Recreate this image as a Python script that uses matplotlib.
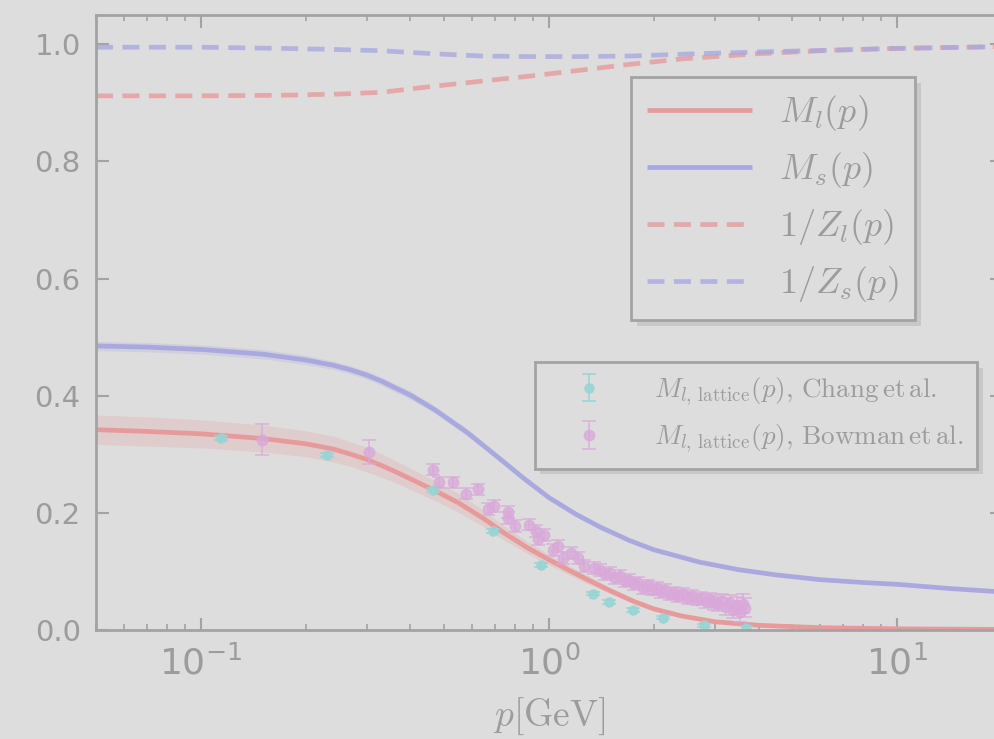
import matplotlib
matplotlib.use('Agg')
import matplotlib.pyplot as plt
import matplotlib.patheffects as pe
import numpy as np

plt.rcParams['mathtext.fontset'] = 'cm'

# colours (the whole figure looks washed out)
bg = '#dddddd'
fg = '#9c9c9c'
spine_col = '#a3a3a3'
red = '#e89a9a'
blue = '#a9a9e0'
teal = '#97d5d5'
pink = '#d9a9d9'

# running masses M_l(p), M_s(p)
p_ml = [0.05, 0.07, 0.1, 0.15, 0.2, 0.24, 0.27, 0.3, 0.33, 0.36, 0.4, 0.47, 0.55, 0.65,
        0.75, 0.87, 1.0, 1.15, 1.3, 1.5, 1.75, 2.0, 2.4, 3.0, 4.0, 6.0, 10.0, 20.0]
m_l = [0.342, 0.339, 0.335, 0.327, 0.318, 0.309, 0.300, 0.291, 0.281, 0.271, 0.258,
       0.238, 0.217, 0.190, 0.164, 0.140, 0.120, 0.101, 0.085, 0.067, 0.049, 0.036,
       0.024, 0.014, 0.008, 0.004, 0.002, 0.001]
m_l_err = [0.025, 0.025, 0.024, 0.023, 0.022, 0.022, 0.021, 0.021, 0.020, 0.019, 0.018,
           0.017, 0.016, 0.014, 0.012, 0.010, 0.009, 0.008, 0.007, 0.005, 0.004, 0.003,
           0.002, 0.001, 0.001, 0.0005, 0.0003, 0.0002]

p_ms = [0.05, 0.07, 0.1, 0.15, 0.2, 0.24, 0.27, 0.3, 0.33, 0.36, 0.4, 0.47, 0.58, 0.7,
        0.85, 1.0, 1.2, 1.4, 1.7, 2.0, 2.7, 3.5, 4.5, 6.0, 8.0, 10.0, 14.0, 20.0]
m_s = [0.485, 0.483, 0.479, 0.471, 0.461, 0.452, 0.444, 0.435, 0.425, 0.414, 0.401,
       0.376, 0.338, 0.299, 0.258, 0.226, 0.197, 0.176, 0.153, 0.137, 0.116, 0.103,
       0.094, 0.086, 0.081, 0.078, 0.071, 0.065]
m_s_err = [0.008, 0.008, 0.008, 0.008, 0.008, 0.007, 0.007, 0.007, 0.007, 0.007, 0.007,
           0.006, 0.006, 0.005, 0.005, 0.004, 0.004, 0.003, 0.003, 0.003, 0.002, 0.002,
           0.002, 0.002, 0.002, 0.002, 0.002, 0.002]

# wave function renormalisations 1/Z_l(p), 1/Z_s(p)
p_z = [0.05, 0.1, 0.17, 0.25, 0.33, 0.46, 0.64, 0.89, 1.24, 1.72, 2.4, 4.0, 6.6, 10.0, 20.0]
inv_zl = [0.912, 0.912, 0.913, 0.915, 0.918, 0.928, 0.937, 0.946, 0.956, 0.966, 0.975,
          0.984, 0.990, 0.993, 0.996]
inv_zs = [0.995, 0.995, 0.993, 0.991, 0.989, 0.984, 0.980, 0.979, 0.979, 0.980, 0.983,
          0.987, 0.990, 0.993, 0.996]

# lattice data, Chang et al.
p_chang = [0.114, 0.231, 0.464, 0.69, 0.95, 1.34, 1.49, 1.74, 2.13, 2.79, 3.69]
m_chang = [0.328, 0.299, 0.239, 0.169, 0.111, 0.062, 0.048, 0.034, 0.021, 0.008, 0.003]
e_chang = [0.003, 0.003, 0.003, 0.003, 0.003, 0.003, 0.003, 0.003, 0.003, 0.003, 0.003]

# lattice data, Bowman et al.
p_bow = [0.150, 0.305, 0.464, 0.482, 0.53, 0.577, 0.624, 0.667, 0.695, 0.762, 0.762,
         0.80, 0.876, 0.918, 0.93, 0.97, 1.03, 1.06, 1.10, 1.16, 1.21, 1.26, 1.35,
         1.40, 1.45, 1.50, 1.55, 1.60, 1.65, 1.70, 1.75, 1.80, 1.86, 1.92, 1.98, 2.04,
         2.10, 2.16, 2.22, 2.28, 2.35, 2.42, 2.50, 2.58, 2.66, 2.74, 2.82, 2.90, 2.98,
         3.06, 3.14, 3.22, 3.30, 3.38, 3.46, 3.54, 3.60, 3.65]
m_bow = [0.325, 0.304, 0.274, 0.252, 0.252, 0.233, 0.240, 0.207, 0.212, 0.202, 0.191,
         0.178, 0.180, 0.169, 0.155, 0.162, 0.137, 0.144, 0.123, 0.132, 0.123, 0.109,
         0.106, 0.103, 0.095, 0.098, 0.088, 0.092, 0.083, 0.086, 0.078, 0.081, 0.072,
         0.076, 0.069, 0.072, 0.065, 0.068, 0.062, 0.064, 0.058, 0.061, 0.055, 0.058,
         0.052, 0.055, 0.049, 0.052, 0.047, 0.044, 0.050, 0.040, 0.046, 0.035, 0.042,
         0.030, 0.045, 0.038]
e_bow = [0.026, 0.020, 0.010, 0.010, 0.010, 0.010, 0.010, 0.010, 0.010, 0.010, 0.010,
         0.010, 0.010, 0.010, 0.010, 0.010, 0.010, 0.010, 0.010, 0.010, 0.010, 0.010,
         0.010, 0.010, 0.010, 0.010, 0.010, 0.010, 0.010, 0.010, 0.010, 0.010, 0.010,
         0.010, 0.010, 0.010, 0.010, 0.010, 0.010, 0.010, 0.010, 0.010, 0.010, 0.010,
         0.010, 0.010, 0.012, 0.012, 0.012, 0.012, 0.012, 0.014, 0.014, 0.015, 0.015,
         0.016, 0.016, 0.016]

fig = plt.figure(figsize=(9.94, 7.39), dpi=100, facecolor=bg)
ax = fig.add_axes([96 / 994, 109 / 739, 906 / 994, 615 / 739], facecolor=bg)

# bands
ml = np.array(m_l)
ms = np.array(m_s)
ax.fill_between(p_ml, ml - np.array(m_l_err), ml + np.array(m_l_err), color=red, alpha=0.25, lw=0)
ax.fill_between(p_ms, ms - np.array(m_s_err), ms + np.array(m_s_err), color=blue, alpha=0.25, lw=0)

l1, = ax.plot(p_ml, m_l, color=red, lw=3.4, solid_capstyle='butt')
l2, = ax.plot(p_ms, m_s, color=blue, lw=3.4, solid_capstyle='butt')
l3, = ax.plot(p_z, inv_zl, color=red, lw=3.4, ls=(0, (3.6, 2.0)), alpha=0.8)
l4, = ax.plot(p_z, inv_zs, color=blue, lw=3.4, ls=(0, (3.6, 2.0)), alpha=0.8)

e1 = ax.errorbar(p_chang, m_chang, yerr=e_chang, fmt='o', color=teal, ms=6.5,
                 mec=teal, mfc=teal, capsize=5, elinewidth=1.2, capthick=1.2, alpha=0.9)
e2 = ax.errorbar(p_bow, m_bow, yerr=e_bow, fmt='o', color=pink, ms=7.5,
                 mec=pink, mfc=(0.85, 0.66, 0.85, 0.4), capsize=5, elinewidth=1.2,
                 capthick=1.2, alpha=0.75)

ax.set_xscale('log')
ax.set_xlim(0.05, 20)
ax.set_ylim(0, 1.05)
ax.set_yticks([0.0, 0.2, 0.4, 0.6, 0.8, 1.0])
ax.set_xlabel(r'$p[\mathrm{GeV}]$', fontsize=27, color=fg, labelpad=10)

for s in ax.spines.values():
    s.set_color(spine_col)
    s.set_linewidth(2)
ax.tick_params(which='both', direction='in', top=True, right=True, colors=spine_col,
               labelcolor=fg, pad=11)
ax.tick_params(which='major', length=9, width=1.5)
ax.tick_params(which='minor', length=4.5, width=1.2)
ax.tick_params(axis='x', labelsize=26)
ax.tick_params(axis='y', labelsize=21)

shade = [pe.SimplePatchShadow(offset=(4, -4), shadow_rgbFace='#c8c8c8', alpha=1.0),
         pe.Normal()]

leg1 = ax.legend([l1, l2, l3, l4],
                 [r'$M_l(p)$', r'$M_s(p)$', r'$1/Z_l(p)$', r'$1/Z_s(p)$'],
                 loc='upper right', bbox_to_anchor=(915 / 994, 1 - 77 / 739),
                 bbox_transform=fig.transFigure, borderaxespad=0, fontsize=26,
                 handlelength=2.9, handletextpad=0.75, labelspacing=0.47,
                 borderpad=0.45, fancybox=False, framealpha=1)
leg1.get_frame().set_facecolor(bg)
leg1.get_frame().set_edgecolor(spine_col)
leg1.get_frame().set_linewidth(2)
leg1.get_frame().set_path_effects(shade)
for t in leg1.get_texts():
    t.set_color(fg)
ax.add_artist(leg1)

leg2 = ax.legend([e1, e2],
                 [r'$M_{l,\,\mathrm{lattice}}(p),\,\mathrm{Chang\,et\,al.}$',
                  r'$M_{l,\,\mathrm{lattice}}(p),\,\mathrm{Bowman\,et\,al.}$'],
                 loc='upper right', bbox_to_anchor=(977 / 994, 1 - 362 / 739),
                 bbox_transform=fig.transFigure, borderaxespad=0, fontsize=19.5,
                 handlelength=3.0, handletextpad=0.9, labelspacing=0.55,
                 borderpad=0.5, fancybox=False, framealpha=1)
leg2.get_frame().set_facecolor(bg)
leg2.get_frame().set_edgecolor(spine_col)
leg2.get_frame().set_linewidth(2)
leg2.get_frame().set_path_effects(shade)
for t in leg2.get_texts():
    t.set_color(fg)

fig.savefig('out.png', dpi=100, facecolor=bg)
